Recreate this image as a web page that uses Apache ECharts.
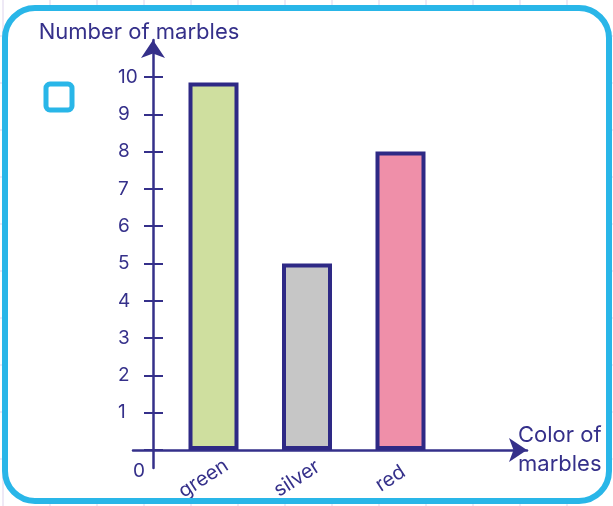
<!DOCTYPE html>
<html><head><meta charset="utf-8">
<script src="https://cdn.jsdelivr.net/npm/echarts@6/dist/echarts.min.js"></script>
<style>html,body{margin:0;padding:0;background:#fff}#c{width:613px;height:506px}</style>
</head><body><div id="c"></div>
<script>
const categories = ['green', 'silver', 'red'];
const marbleCounts = [9.85, 5, 8];
const barColors = ['#cfdf9f', '#c6c6c6', '#ef8fa9'];
const yMin = 0, yMax = 10, yStep = 1;
const yTitle = 'Number of marbles';
const xTitle = 'Color of\nmarbles';

const NAVY = '#35308a';
const BORDER = '#2e2985';
const BLUE = '#29b6e8';
const FONT = 'Inter';

const bg = [];
for (let x = 3; x < 613; x += 47) bg.push({type:'line', z:-100, shape:{x1:x,y1:0,x2:x,y2:506}, style:{stroke:'#ddd3ec', lineWidth:1}});
for (let y = 36; y < 506; y += 47) bg.push({type:'line', z:-100, shape:{x1:0,y1:y,x2:613,y2:y}, style:{stroke:'#ddd3ec', lineWidth:1}});

const chart = echarts.init(document.getElementById('c'), null, {renderer:'canvas'});
chart.setOption({
  animation: false,
  textStyle: {fontFamily: FONT, color: NAVY},
  graphic: {elements: bg.concat([
    {type:'rect', z:-90, shape:{x:5, y:8, width:604, height:493, r:30}, style:{fill:'#fff'}},
    {type:'rect', z:100, shape:{x:5, y:8, width:604, height:493, r:30}, style:{fill:null, stroke:BLUE, lineWidth:6}},
    {type:'rect', z:-80, shape:{x:46, y:84, width:26, height:26, r:4}, style:{fill:'#fff', stroke:BLUE, lineWidth:5}}
  ])},
  grid: [
    {left: 166.75, right: 165.75, top: 77, bottom: 56},
    {left: 133, right: 86, top: 40, bottom: 38}
  ],
  xAxis: [
    {type:'category', gridIndex:0, data: categories,
     axisLine:{show:false}, axisTick:{show:false},
     axisLabel:{interval:0, rotate:33, margin:22, fontSize:20, color:NAVY, fontFamily:FONT,
       align:'center', verticalAlign:'middle', padding:[0,24,0,0]}},
    {type:'value', gridIndex:1, min:-1, max:18.7,
     axisLine:{onZero:true, lineStyle:{color:NAVY, width:2.5}, symbol:['none','arrow'], symbolSize:[18,18]},
     axisTick:{show:false}, axisLabel:{show:false}, splitLine:{show:false},
     name: xTitle, nameLocation:'end', nameGap:-9,
     nameTextStyle:{fontSize:22, color:NAVY, fontFamily:FONT, align:'left', verticalAlign:'middle', lineHeight:29}}
  ],
  yAxis: [
    {type:'value', gridIndex:0, min:yMin, max:yMax, interval:yStep, offset:3.75,
     axisLine:{show:false},
     axisTick:{show:true, length:19, lineStyle:{color:NAVY, width:2}},
     splitLine:{show:false},
     axisLabel:{align:'left', margin:45, fontSize:19, color:NAVY, fontFamily:FONT,
       formatter: v => v === 0 ? '{z|0}' : String(v),
       rich:{z:{fontSize:19, color:NAVY, fontFamily:FONT, padding:[42,0,0,15]}}}},
    {type:'value', gridIndex:1, min:-1, max:22.78,
     axisLine:{onZero:true, lineStyle:{color:NAVY, width:2.5}, symbol:['none','arrow'], symbolSize:[18,18]},
     axisTick:{show:false}, axisLabel:{show:false}, splitLine:{show:false},
     name: yTitle, nameLocation:'end', nameGap:8,
     nameTextStyle:{fontSize:22, color:NAVY, fontFamily:FONT, align:'center', verticalAlign:'middle', padding:[0,28,0,0]}}
  ],
  series: [{
    type:'bar', xAxisIndex:0, yAxisIndex:0, barWidth:50,
    data: marbleCounts.map((v,i)=>({value:v, itemStyle:{color:barColors[i]}})),
    itemStyle:{borderColor:BORDER, borderWidth:4}
  }]
});
</script></body></html>
